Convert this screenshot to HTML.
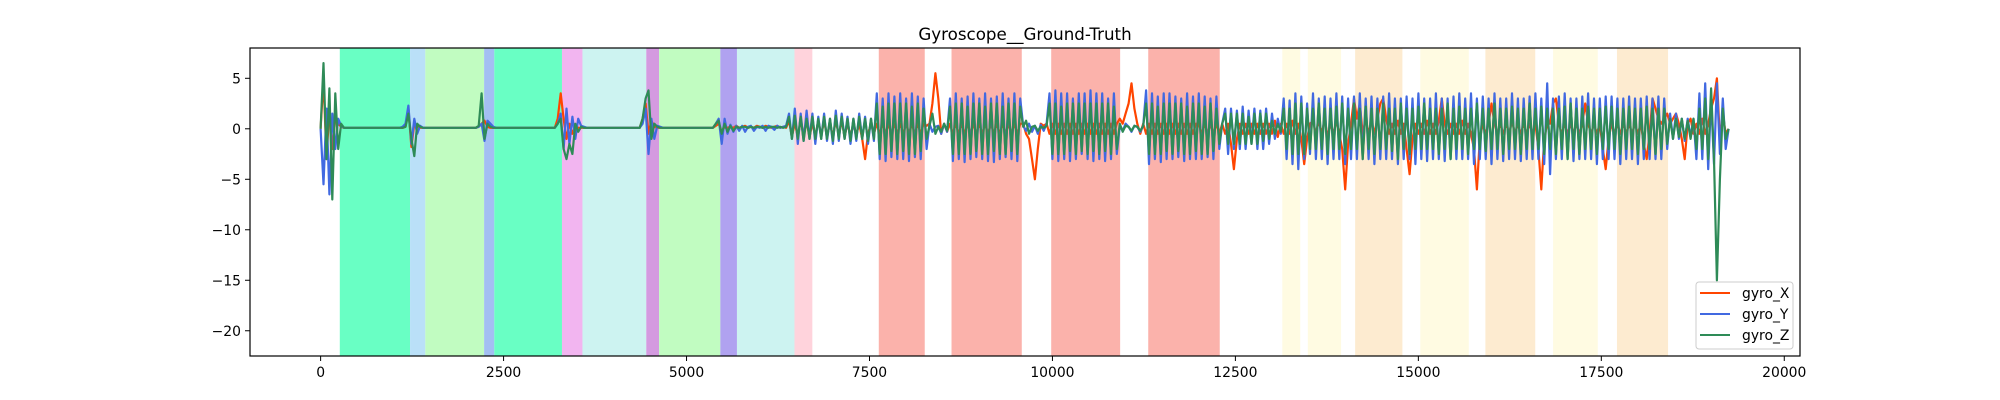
<!DOCTYPE html>
<html><head><meta charset="utf-8"><title>Gyroscope__Ground-Truth</title>
<style>html,body{margin:0;padding:0;background:#fff}svg{display:block;font-family:"DejaVu Sans","Liberation Sans",sans-serif}</style>
</head><body>
<svg id="chart" width="2000" height="400" viewBox="0 0 2000 400" xmlns="http://www.w3.org/2000/svg">
<text x="1025" y="40" text-anchor="middle" font-size="16.7" fill="#000">Gyroscope__Ground-Truth</text>
<g id="bands"></g>
<g id="lines"></g>
<rect x="250" y="48" width="1550" height="308" fill="none" stroke="#000" stroke-width="1.2"/>
<g id="axes"></g>
<g>
<rect x="1696" y="282" width="97" height="67" rx="3" fill="rgba(255,255,255,0.8)" stroke="#ccc"/>
<line x1="1700" y1="293" x2="1730" y2="293" stroke="#ff4500" stroke-width="2"/>
<text x="1742" y="298" font-size="13.9">gyro_X</text>
<line x1="1700" y1="314" x2="1730" y2="314" stroke="#4169e1" stroke-width="2"/>
<text x="1742" y="319" font-size="13.9">gyro_Y</text>
<line x1="1700" y1="335" x2="1730" y2="335" stroke="#2e8b57" stroke-width="2"/>
<text x="1742" y="340" font-size="13.9">gyro_Z</text>
</g>
</svg>
<script>
const xTicks=[0,2500,5000,7500,10000,12500,15000,17500,20000];
const yTicks=[5,0,-5,-10,-15,-20];
const bandStart=[262,1222,1431,2234,2373,3298,3578,4450,4625,5462,5689,6475,7627,8621,9983,11309,13141,13490,14136,15026,15916,16841,17714];
const bandEnd=[1222,1431,2234,2373,3298,3578,4450,4625,5462,5689,6475,6719,8255,9581,10925,12286,13386,13944,14782,15689,16597,17452,18412];
const bandColor=["#69ffc4","#bae0f8","#c1fcc1","#a3bff2","#69ffc4","#f2b5f0","#cdf3f1","#d49ae0","#c1fcc1","#b0a2f0","#cdf3f1","#ffd3dc","#fbb2ab","#fbb2ab","#fbb2ab","#fbb2ab","#fffbe2","#fffbe2","#fdebd0","#fffbe2","#fdebd0","#fffbe2","#fdebd0"];
const sampleStep=40;
const gyroY=(
"0 -5.5 2 -6.5 1.5 -2 1 0.3 0.1 0.1 0.1 0.1 0.1 0.1 0.1 0.1 0.1 0.1 0.1 0.1 "+
"0.1 0.1 0.1 0.1 0.1 0.1 0.1 0.1 0.2 0.5 2.3 -1.5 1 -0.5 0.3 0.1 0.1 0.1 0.1 0.1 "+
"0.1 0.1 0.1 0.1 0.1 0.1 0.1 0.1 0.1 0.1 0.1 0.1 0.1 0.1 0.2 0.5 -1.2 0.8 0.5 0.2 "+
"0.1 0.1 0.1 0.1 0.1 0.1 0.1 0.1 0.1 0.1 0.1 0.1 0.1 0.1 0.1 0.1 0.1 0.1 0.1 0.1 "+
"0.1 0.5 1.5 -2 2 -1.5 1.2 -1 1 0.3 0.2 0.1 0.1 0.1 0.1 0.1 0.1 0.1 0.1 0.1 "+
"0.1 0.1 0.1 0.1 0.1 0.1 0.1 0.1 0.1 0.1 0.5 2 -2.5 1 -1 0.3 0.2 0.1 0.1 0.1 "+
"0.1 0.1 0.1 0.1 0.1 0.1 0.1 0.1 0.1 0.1 0.1 0.1 0.1 0.1 0.1 0.5 1 -1.5 1 -0.5 "+
"0.4 -0.3 0.3 -0.2 0.3 -0.3 0.2 0.3 -0.2 0.2 0.1 0.3 -0.2 0.3 0.2 -0.1 0.3 0.1 0.2 0.3 "+
"1.5 -1 2 -1.5 1.5 -1.2 1.8 -1 1.5 -1.5 1.2 -1 1.5 -1.2 1 -1.5 1.8 -1.2 1.5 -1 "+
"1.2 -1.5 1 -1.2 1.5 -1 1.2 -1.5 1 -1.2 3.5 -3 3 -3.2 3.5 -2.8 3.2 -3 3.5 -3 "+
"3 -3.2 3.5 -2.8 3.2 -3 3 -2 0.5 -0.3 0.2 0.3 -0.5 0.5 -0.3 3 -3.2 3.5 -3 3 "+
"-3.3 3.2 -3 3.5 -2.8 3 -3 3.5 -3.2 3 -3.3 3.2 -3 3.5 -2.8 3 -3 3.5 -3.2 3 "+
"0.3 -0.2 0.5 -0.3 0.3 -0.5 0.4 -0.2 0.5 3.5 -3 3.8 -3.2 3.5 -3 3.5 -3.2 3 -3 3.5 "+
"-2.5 3.5 -3 3.8 -3.2 3.5 -3 3.5 -3.2 3 -3 3.5 -2.5 0.3 -0.2 0.5 0.2 -0.3 0.3 0.2 "+
"-0.3 0.3 3.8 -3.5 3.5 -3 3.2 -3.3 3.5 -3 3.5 -3 3.2 -2.8 3 -3.2 3.5 -3 3.2 -3 "+
"3.5 -3 3.2 -2.8 3 -3 3.2 -2 0.5 2 -2.5 2 -2 1.8 -2 2.2 -2 1.8 -1.5 2 "+
"-2 1.8 -2 2 -1.5 1.5 -1 1 -0.5 3 -3 2.8 -3.5 3.5 -4 3.2 -3 2.5 -2.5 3.5 "+
"-3 3 -3 3.2 -3.5 3 -3 3.5 -3 3.2 -3.5 3 -3 3.2 -3 3.5 -3 3 -3 3.2 "+
"-3.5 3 -3 3.2 -3 3.5 -3 3 -3.5 3 -3 3.2 -3 3 -3.5 3.5 -3 3 -3.2 3 "+
"-3 3.5 -3 3 -3.2 3 -3 3.2 -3 3.5 -3 3 -3 3.5 -3.5 3 -3 3.2 -3 3 "+
"-3.5 3.5 -3 3 -3.2 3 -3 3.5 -3 3 -3.2 3 -3 3.2 -3 3.5 -3 3 -3.5 4.5 "+
"-4.5 3 -3 3.2 -3 3.5 -3 3 -3.2 3 -3 3.2 -3 3.5 -3 3 -3.5 3 -3 3.2 "+
"-3 3.2 -3 3 -3.5 3 -3 3.2 -3 3 -3.5 3 -3 3.2 -3 3 -3 3.2 -3 3 "+
"-2 1.5 -1 1.5 -1 1 -1.2 1 -0.8 1 -3 3.5 -3 4.5 -4 3 -3.5 4.5 -2.5 3 "+
"-2 0").split(' ').map(Number);
const gyroZ=(
"0 6.5 -3 4 -7 3.5 -2 0.5 0.1 0.1 0.1 0.1 0.1 0.1 0.1 0.1 0.1 0.1 0.1 0.1 "+
"0.1 0.1 0.1 0.1 0.1 0.1 0.1 0.1 0.1 0.2 1.5 -1 -2.7 0.5 0.2 0.1 0.1 0.1 0.1 0.1 "+
"0.1 0.1 0.1 0.1 0.1 0.1 0.1 0.1 0.1 0.1 0.1 0.1 0.1 0.1 0.3 3.5 -1 0.5 0.2 0.1 "+
"0.1 0.1 0.1 0.1 0.1 0.1 0.1 0.1 0.1 0.1 0.1 0.1 0.1 0.1 0.1 0.1 0.1 0.1 0.1 0.1 "+
"0.1 0.5 1 -2 -3 -1.5 -2.5 0.5 -0.3 0.2 0.1 0.1 0.1 0.1 0.1 0.1 0.1 0.1 0.1 0.1 "+
"0.1 0.1 0.1 0.1 0.1 0.1 0.1 0.1 0.1 0.1 1 3 3.8 -1 0.5 0.2 0.1 0.1 0.1 0.1 "+
"0.1 0.1 0.1 0.1 0.1 0.1 0.1 0.1 0.1 0.1 0.1 0.1 0.1 0.1 0.1 0.5 0.8 -0.5 0.5 -0.3 "+
"0.3 -0.2 0.2 0.1 0.2 0.2 0.1 0.2 0.1 0.2 0.2 0.1 0.2 0.1 0.2 0.2 0.1 0.2 0.1 0.2 "+
"1.2 -1 1.3 -1 1.2 -1.2 1 -1 1.2 -1 1 -1 1.2 -1 1 -1.2 1.3 -1 1.2 -1 "+
"1 -1.2 1 -1 1.2 -1 1 -1.2 1 -1 2.5 -2.5 2.2 -2.5 2.5 -2.2 2.5 -2.5 2.5 -2.2 "+
"2.5 -2.5 2.2 -2.5 2.5 -2.2 2 -1 0.3 1.5 -0.5 0.2 -0.3 0.5 -0.2 2.2 -2.5 2.5 -2.5 2.5 "+
"-2.5 2.2 -2.5 2.5 -2.2 2.5 -2.5 2.2 -2.5 2.5 -2.2 2.5 -2.5 2.2 -2.5 2.5 -2.2 2.5 -2.5 2.2 "+
"0.2 0.8 -0.5 0.2 0.3 -0.2 0.2 0.1 0.3 2.5 -2.5 2.5 -2.5 2.2 -2.5 2.5 -2.2 2.5 -2.5 2.5 "+
"-2.2 2.5 -2.5 2.5 -2.2 2.5 -2.5 2.5 -2.2 2.5 -2.5 2.2 -2 0.5 -0.3 0.3 0.2 -0.2 0.3 0.2 "+
"-0.2 0.3 2.5 -2.5 2.5 -2.5 2.2 -2.5 2.5 -2.2 2.5 -2.5 2.5 -2.2 2.5 -2.5 2.2 -2.5 2.5 -2.2 "+
"2.5 -2.5 2.2 -2.5 2.5 -2.2 2 -1.5 0.5 1.5 -1.5 1.5 -1.5 1.5 -1.5 1.5 -1.5 1.2 -1.5 1.5 "+
"-1.5 1.5 -1.2 1.5 -1 0.8 -0.5 0.5 -0.3 2 -2 2 -2.5 2.5 -2.5 2.5 -2.5 2 -2 2 "+
"-2 2.5 -2 2 -2.5 2 -2 2.2 -2 2.5 -2.5 2 -2 2.5 -2 2 -3 2.2 -2 2 "+
"-2.5 2 -2 2.5 -2 2 -2.2 2 -3 2.5 -2 2 -2.5 2 -2 2.2 -2 2.5 -2 2 "+
"-2 2 -2.5 2 -2 2.5 -3 2 -2 2.2 -2 2 -2.5 2 -2 2.5 -2 2 -2.2 2 "+
"-2 2.5 -2 2 -2.5 2 -2 2.2 -2 2 -2.5 2 -2 2.5 -2 2 -2 2.2 -2.5 2 "+
"-2 2 -2.5 2 -2 2.2 -3 2.5 -2 2 -2.5 2 -2 2.2 -2 2 -2.5 2 -2 2.2 "+
"-2 2.2 -2 2 -2.5 2 -2 2.2 -2 2 -2.5 2 -2 2.2 -2 2 -2.5 2 -2 2 "+
"-1.5 1 -1 1 -0.8 1 -1 0.8 -1 1 -2 2 -2 3 -3 4 -3 -15 -5 2 "+
"-1 0").split(' ').map(Number);
const gyroX=(
"0 5 -3 2 -2 1 0.5 0.2 0.1 0.1 0.1 0.1 0.1 0.1 0.1 0.1 0.1 0.1 0.1 0.1 "+
"0.1 0.1 0.1 0.1 0.1 0.1 0.1 0.1 0.1 0.2 2 -1.8 0.5 0.2 0.1 0.1 0.1 0.1 0.1 0.1 "+
"0.1 0.1 0.1 0.1 0.1 0.1 0.1 0.1 0.1 0.1 0.1 0.1 0.1 0.1 0.2 0.5 0.8 0.2 0.1 0.1 "+
"0.1 0.1 0.1 0.1 0.1 0.1 0.1 0.1 0.1 0.1 0.1 0.1 0.1 0.1 0.1 0.1 0.1 0.1 0.1 0.1 "+
"0.1 1 3.5 1 -1 0.5 -0.5 0.3 0.1 0.1 0.1 0.1 0.1 0.1 0.1 0.1 0.1 0.1 0.1 0.1 "+
"0.1 0.1 0.1 0.1 0.1 0.1 0.1 0.1 0.1 0.1 1 2.5 -0.5 0.8 0.2 0.1 0.1 0.1 0.1 0.1 "+
"0.1 0.1 0.1 0.1 0.1 0.1 0.1 0.1 0.1 0.1 0.1 0.1 0.1 0.1 0.1 0.3 0.5 -0.3 0.2 0.1 "+
"0.2 0.1 0.3 0.1 0.2 0.3 0.1 0.2 0.1 0.3 0.2 0.1 0.3 0.2 0.1 0.2 0.3 0.1 0.2 0.1 "+
"0.8 -0.8 0.6 -0.8 0.8 -0.6 0.8 -0.8 0.6 -0.8 0.8 -0.6 0.8 -0.8 0.6 -0.8 0.8 -0.6 0.8 -0.8 "+
"0.6 -0.8 0.5 -0.6 0.5 -1 -3 -0.5 0.5 -0.5 0.5 -0.5 0.5 -0.5 0.5 -0.5 0.5 -0.5 0.5 -0.5 "+
"0.5 -0.5 0.5 -0.5 0.5 -0.5 0.5 0.3 0.5 2.5 5.5 3 -0.5 0.5 -0.3 0.5 -0.5 0.5 -0.5 0.5 "+
"-0.5 0.5 -0.5 0.5 -0.5 0.5 -0.5 0.5 -0.5 0.5 -0.5 0.5 -0.5 0.5 -0.5 0.5 -0.5 0.5 -0.5 0.5 "+
"0.5 -0.5 -1 -3 -5 -2 0.5 0.3 0.5 -0.5 0.5 -0.5 0.5 -0.5 0.5 -0.5 0.5 -0.5 0.5 -0.5 "+
"0.5 -0.5 0.5 -0.5 0.5 -0.5 0.5 -0.5 0.5 -0.5 0.5 -0.5 0.5 1 0.5 1.5 2.5 4.5 2 0.5 "+
"-0.5 0.5 -0.5 0.5 -0.5 0.5 -0.5 0.5 -0.5 0.5 -0.5 0.5 -0.5 0.5 -0.5 0.5 -0.5 0.5 -0.5 0.5 "+
"0.5 -0.5 0.5 -0.5 0.5 -0.5 0.5 -0.5 0.5 -0.5 0.5 -1.5 -4 -1 0.5 -0.5 0.5 -0.5 0.5 -0.5 "+
"0.5 -0.5 0.5 -0.5 0.5 -0.5 0.8 -0.8 0.5 -0.5 0.5 -0.5 0.8 -0.5 0.5 -1 -3.5 -1 0.5 0.8 "+
"-0.5 0.8 -0.5 1 -0.8 0.5 -0.5 0.8 -0.5 -2 -6 -1.5 0.5 3 1 2.5 -0.5 1 -0.5 0.8 "+
"-0.5 1 2.5 3 1 -0.5 0.5 -0.5 0.8 -0.5 0.5 -2 -4.5 -1 0.5 -0.5 0.5 -0.5 0.8 -0.5 "+
"0.5 -0.5 0.8 3 0.5 -0.5 0.5 -0.5 0.5 -0.5 0.8 -0.5 0.5 -0.5 -2 -6 -1 0.5 -0.5 0.5 "+
"2.5 0.5 -0.5 0.5 -0.5 0.5 -0.5 0.8 -0.5 0.5 -0.5 0.5 -0.5 0.5 -0.5 0.5 -2 -6 -1 0.5 "+
"0.5 2.5 3 0.5 -0.5 0.5 -0.5 0.5 -0.5 0.5 -0.5 0.5 2.5 0.5 -0.5 0.5 -0.5 0.5 -2 -4 "+
"-1 0.5 -0.5 0.5 -0.5 0.5 -0.5 0.5 -0.5 0.5 -0.5 0.5 -1.5 -3 -0.5 3 2 1 0.5 1 "+
"1.5 0.5 1 1.5 0.5 -1 -3 0.5 1 -0.5 0.5 -0.5 1 -0.5 0.5 2 3 5 -1 1.5 "+
"-0.5 0").split(' ').map(Number);
const xMin=-965,xMax=20215,yMin=-22.5,yMax=8.0;
const L=250,R=1800,T=48,B=356;
function sx(v){return L+(v-xMin)/(xMax-xMin)*(R-L);}
function sy(v){return B-(v-yMin)/(yMax-yMin)*(B-T);}
const NS="http://www.w3.org/2000/svg";
const bands=document.getElementById('bands');
for(let i=0;i<bandStart.length;i++){
  const r=document.createElementNS(NS,'rect');
  
  
  r.setAttribute('x',sx(bandStart[i]));r.setAttribute('y',T);
  r.setAttribute('width',sx(bandEnd[i])-sx(bandStart[i]));r.setAttribute('height',B-T);
  r.setAttribute('fill',bandColor[i]);
  bands.appendChild(r);
}
const lines=document.getElementById('lines');
function drawSeries(arr,color,name){
  const p=document.createElementNS(NS,'path');
  
  
  let d='';
  arr.forEach((v,i)=>{d+=(i?'L':'M')+sx(i*sampleStep).toFixed(1)+' '+sy(v).toFixed(1);});
  p.setAttribute('d',d);p.setAttribute('fill','none');p.setAttribute('stroke',color);
  p.setAttribute('stroke-width','2.2');p.setAttribute('stroke-linejoin','round');
  lines.appendChild(p);
}
drawSeries(gyroX,'#ff4500','gyro-x-line');
drawSeries(gyroY,'#4169e1','gyro-y-line');
drawSeries(gyroZ,'#2e8b57','gyro-z-line');
const axes=document.getElementById('axes');
xTicks.forEach(t=>{
  const x=sx(t);
  const l=document.createElementNS(NS,'line');
  
  
  l.setAttribute('x1',x);l.setAttribute('x2',x);l.setAttribute('y1',B);l.setAttribute('y2',B+5);l.setAttribute('stroke','#000');
  axes.appendChild(l);
  const tx=document.createElementNS(NS,'text');
  
  
  tx.setAttribute('x',x);tx.setAttribute('y',B+21);tx.setAttribute('text-anchor','middle');tx.setAttribute('font-size','13.9');
  tx.textContent=String(t);axes.appendChild(tx);
});
yTicks.forEach(t=>{
  const y=sy(t);
  const l=document.createElementNS(NS,'line');
  
  
  l.setAttribute('x1',L-5);l.setAttribute('x2',L);l.setAttribute('y1',y);l.setAttribute('y2',y);l.setAttribute('stroke','#000');
  axes.appendChild(l);
  const tx=document.createElementNS(NS,'text');
  
  
  tx.setAttribute('x',L-9);tx.setAttribute('y',y+5);tx.setAttribute('text-anchor','end');tx.setAttribute('font-size','13.9');
  tx.textContent=(t<0?'\u2212'+(-t):String(t));axes.appendChild(tx);
});
</script>
</body></html>
